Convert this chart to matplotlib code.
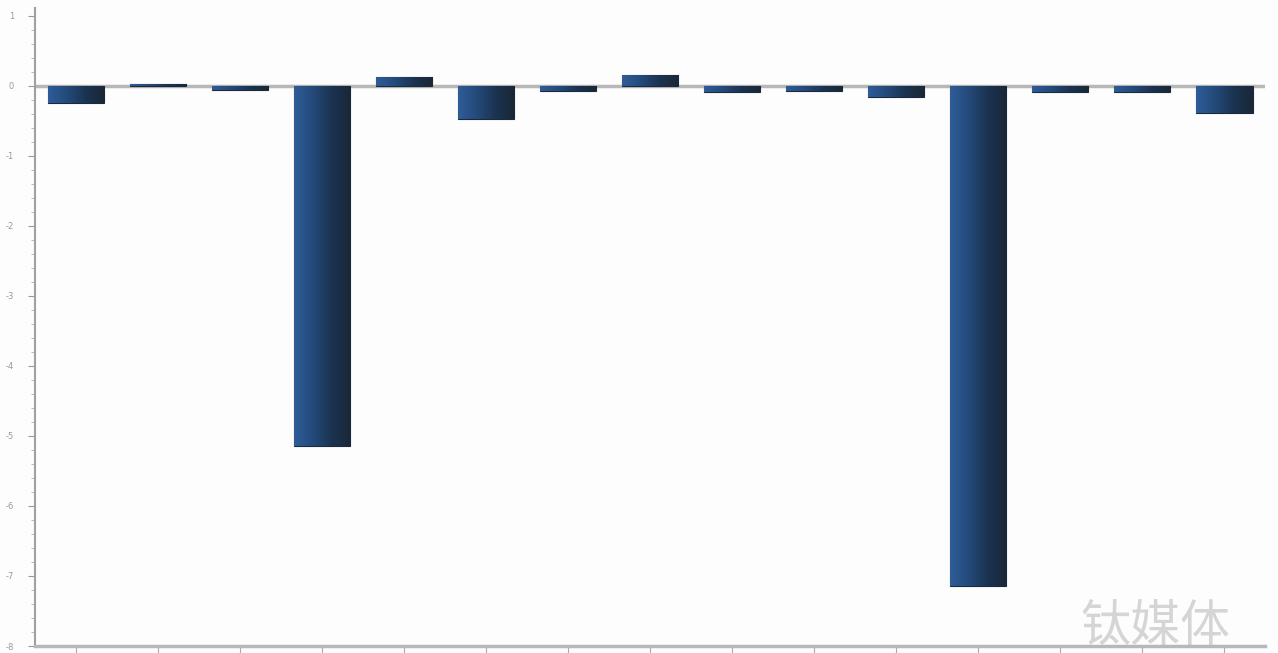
import numpy as np
import matplotlib
matplotlib.use("Agg")
import matplotlib.pyplot as plt
from matplotlib.ticker import MultipleLocator

categories = list(range(1, 16))
values = [-0.24, 0.02, -0.06, -5.14, 0.12, -0.47, -0.07, 0.15, -0.09, -0.08,
          -0.16, -7.14, -0.09, -0.09, -0.39]
ytick_vals = [1, 0, -1, -2, -3, -4, -5, -6, -7, -8]
ytick_labels = ["1", "0", "-1", "-2", "-3", "-4", "-5", "-6", "-7", "-8"]

fig = plt.figure(figsize=(12.78, 6.53), dpi=100)
fig.patch.set_facecolor("#fdfdfd")
ax = fig.add_axes([0.0274, 0.0107, 0.9626, 0.977])
ax.set_facecolor("#fdfdfd")

x = np.arange(len(categories))
bars = ax.bar(x, values, width=0.69, color="#23446e", edgecolor="#1a2a3c", linewidth=0.8, zorder=3)

# horizontal gradient inside each bar
grad = np.linspace(0, 1, 256).reshape(1, -1)
cmap = matplotlib.colors.LinearSegmentedColormap.from_list("g", ["#2f5d98", "#244a7a", "#1b3350", "#1a2736"])
for b in bars:
    x0, y0 = b.get_x(), b.get_y()
    w, h = b.get_width(), b.get_height()
    im = ax.imshow(grad, extent=[x0, x0 + w, y0, y0 + h], aspect="auto", cmap=cmap,
                   zorder=3.5, origin="lower")
    im.set_clip_path(b)

ax.axhline(0, color="#b8b8b8", lw=2.5, zorder=2)

ax.set_xlim(-0.5, len(categories) - 0.5)
ax.set_ylim(-8, 1.11)
ax.set_yticks(ytick_vals)
ax.set_yticklabels(ytick_labels, fontsize=6, color="#999999")
ax.yaxis.set_minor_locator(MultipleLocator(0.2))
ax.tick_params(axis="y", which="major", length=5, color="#9a9a9a", pad=10)
ax.tick_params(axis="y", which="minor", length=3, color="#b0b0b0")
ax.set_xticks(x)
ax.set_xticklabels([""] * len(x))
ax.tick_params(axis="x", length=6, color="#aaaaaa")

for s in ["top", "right"]:
    ax.spines[s].set_visible(False)
ax.spines["left"].set_color("#a0a0a0")
ax.spines["left"].set_linewidth(1.5)
ax.spines["bottom"].set_color("#b8b8b8")
ax.spines["bottom"].set_linewidth(2.5)

fig.text(0.845, 0.0, "钛媒体", fontsize=36, color="#9a9a9a", alpha=0.4,
         family=["Noto Sans CJK SC", "DejaVu Sans"], ha="left", va="bottom")

fig.savefig("out.png", dpi=100, facecolor=fig.get_facecolor())
